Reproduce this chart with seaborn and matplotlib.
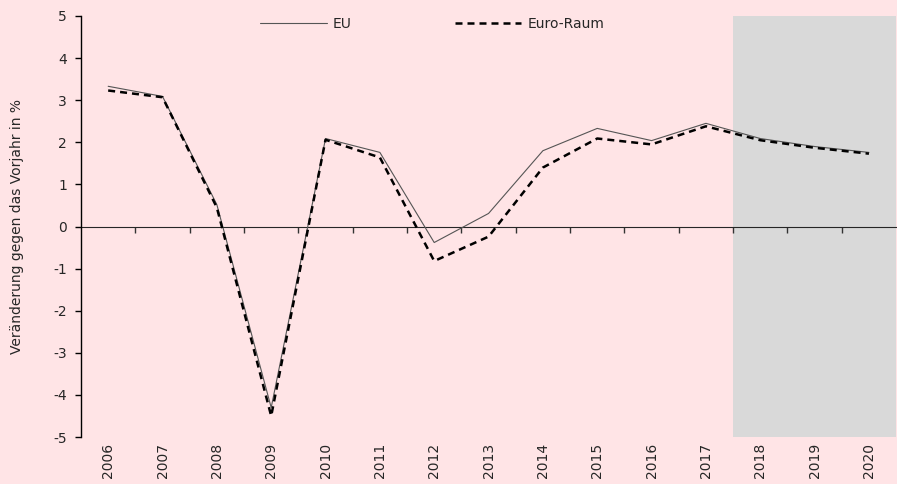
import seaborn as sns
import matplotlib.pyplot as plt
import pandas as pd

years = list(range(2006, 2021))
eu = [3.33, 3.09, 0.52, -4.3, 2.09, 1.76, -0.38, 0.31, 1.8, 2.33, 2.04, 2.45, 2.09, 1.9, 1.76]
euro_raum = [3.23, 3.07, 0.45, -4.5, 2.06, 1.64, -0.82, -0.24, 1.4, 2.09, 1.95, 2.38, 2.05, 1.87, 1.73]
forecast_start = 2017.5

df = pd.DataFrame({"Jahr": years, "EU": eu, "Euro-Raum": euro_raum})

sns.set_style("white")
plt.rcParams["font.family"] = ["DejaVu Sans"]
plt.rcParams["axes.unicode_minus"] = False
bg = "#FFE4E6"

fig = plt.figure(figsize=(8.97, 4.84), dpi=100, facecolor=bg)
ax = fig.add_axes([0.0903, 0.097, 0.9087, 0.870])
ax.set_facecolor(bg)

ax.axvspan(forecast_start, years[-1] + 0.5, color="#D9D9D9", zorder=0, lw=0)

sns.lineplot(data=df, x="Jahr", y="EU", ax=ax, color="#555555", linewidth=0.8, label="EU")
sns.lineplot(data=df, x="Jahr", y="Euro-Raum", ax=ax, color="black", linewidth=1.8,
             label="Euro-Raum")
ax.lines[-1].set_dashes((2.8, 2.0))

ax.set_xlim(years[0] - 0.5, years[-1] + 0.5)
ax.set_ylim(-5, 5)
ax.set_yticks(range(-5, 6))
ax.set_xticks(years)
ax.set_xticklabels([str(y) for y in years], rotation=90, fontsize=10)
ax.tick_params(axis="x", length=0, pad=4)
ax.tick_params(axis="y", length=4, width=1, color="black", labelsize=10, direction="out", pad=6, left=True)
ax.set_xlabel("")
ax.set_ylabel("Veränderung gegen das Vorjahr in %", fontsize=10, labelpad=21)

for side in ["top", "right", "bottom"]:
    ax.spines[side].set_visible(False)
ax.spines["left"].set_color("black")
ax.spines["left"].set_linewidth(1)

# zero line with ticks between the years
zero = ax.secondary_xaxis(0.5)
zero.set_xticks([y + 0.5 for y in years[:-1]])
zero.set_xticklabels([])
zero.xaxis.set_ticks_position("bottom")
zero.tick_params(axis="x", length=4, width=1, color="#333333", direction="out", top=False, bottom=True)
zero.spines["bottom"].set_color("black")
zero.spines["bottom"].set_linewidth(1)

leg = ax.legend(loc="upper center", bbox_to_anchor=(0.431, 1.028), ncol=2, frameon=False,
                handlelength=4.8, columnspacing=7.4, fontsize=10, handletextpad=0.45)
leg.get_lines()[1].set_dashes((2.8, 2.0))

fig.savefig("out.png", dpi=100, facecolor=bg)
